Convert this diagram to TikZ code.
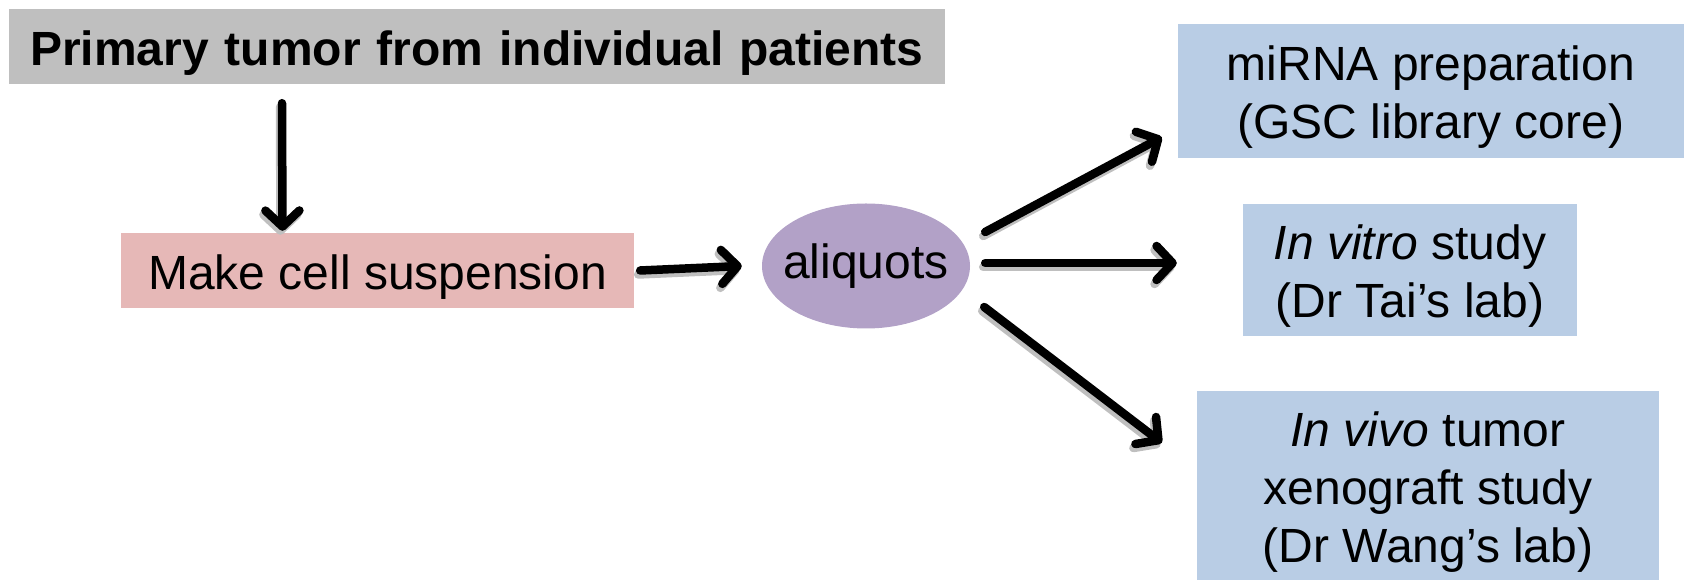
\documentclass[tikz,border=0pt]{standalone}
\usepackage{fontspec}
\setmainfont{Liberation Sans}
\definecolor{tumorgray}{RGB}{191, 191, 191}
\definecolor{cellpink}{RGB}{230, 184, 183}
\definecolor{aliqpurple}{RGB}{178, 161, 199}
\definecolor{labblue}{RGB}{185, 205, 229}
\usepackage{tikz}
\usetikzlibrary{
  arrows.meta,
  positioning,
  shapes.geometric,
  calc
}
\newcommand\lowstrut{\rule{0pt}{47pt}}

\begin{document}
\begin{tikzpicture}[x=1pt, y=1pt,
  every node/.style={font=\fontsize{48}{58}\selectfont, inner sep=0pt},
  stepbox/.style={rectangle, minimum width=#1, align=center},
  flow/.style={line width=8.5pt, line cap=round,
    -{Straight Barb[round, length=16pt, width=34pt]}},
  flowshade/.style={flow, draw=gray!50, transform canvas={shift={(-2pt,-4pt)}}}
]
\useasboundingbox (0,0) rectangle (1684,580);

% source and preparation
\node[stepbox=936pt, fill=tumorgray, minimum height=75pt, text width=894pt, align=left]
  (tumor) at (477,533.5) {\lowstrut\bfseries Primary tumor from individual patients};
\node[stepbox=513pt, fill=cellpink, minimum height=75pt] (cells) at (377.5,309.5) {\lowstrut Make cell suspension};
\node[ellipse, fill=aliqpurple, minimum width=208pt, minimum height=125pt] (aliq) at (866,314)
  {\makebox[0pt]{\raisebox{4pt}{aliquots}}};

% destinations
\node[stepbox=506pt, fill=labblue, minimum height=134pt] (mirna) at (1431,489)
  {\lowstrut miRNA preparation\\(GSC library core)};
\node[stepbox=334pt, fill=labblue, minimum height=132pt] (vitro) at (1410,310)
  {\lowstrut\textit{In vitro} study\\(Dr Tai’s lab)};
\node[stepbox=462pt, fill=labblue, minimum height=189pt] (vivo) at (1428,94.5)
  {\lowstrut\textit{In vivo} tumor\\xenograft study\\(Dr Wang’s lab)};

% arrow ends
\coordinate (t0) at ([xshift=-195pt, yshift=-19pt]tumor.south);
\coordinate (c1) at ([xshift=-95pt, yshift=2pt]cells.north);
\coordinate (c0) at ([xshift=6pt]cells.east);
\coordinate (a1) at ([xshift=-20pt]aliq.west);
\coordinate (am) at ([xshift=15pt, yshift=34pt]aliq.east);
\coordinate (mm) at ([xshift=-16pt, yshift=21pt]mirna.south west);
\coordinate (at) at ([xshift=15pt, yshift=3pt]aliq.east);
\coordinate (vt) at ([xshift=-66pt, yshift=7pt]vitro.west);
\coordinate (av) at ([xshift=14pt, yshift=-41pt]aliq.east);
\coordinate (vv) at ([xshift=-35pt, yshift=-52pt]vivo.north west);

\foreach \s/\e in {t0/c1, c0/a1, am/mm, at/vt, av/vv} {
  \draw[flowshade] (\s) -- (\e);
  \draw[flow] (\s) -- (\e);
}
\end{tikzpicture}
\end{document}
